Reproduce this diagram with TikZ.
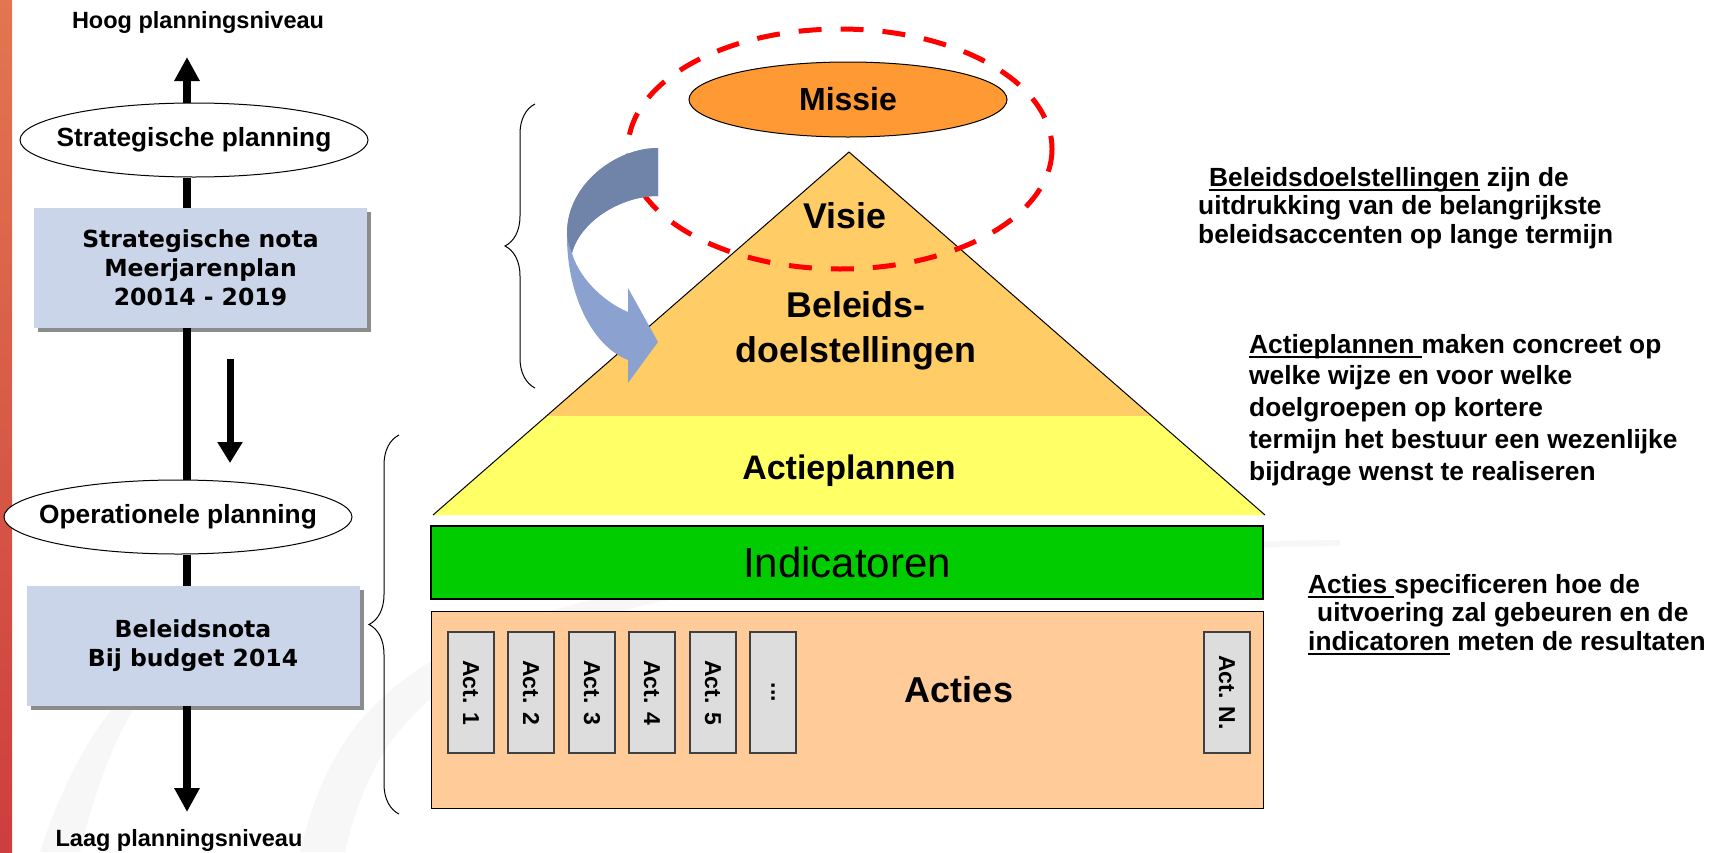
\documentclass[tikz,border=0pt]{standalone}
\usepackage{fontspec}
\setmainfont{Liberation Sans}
\newfontfamily\verdana{DejaVu Sans}
\usepackage{tikz}
\usetikzlibrary{shapes,arrows.meta,calc,shadows,decorations.pathreplacing,positioning}
\definecolor{stripetop}{RGB}{226,118,80}
\definecolor{stripebot}{RGB}{205,62,62}
\definecolor{notablue}{RGB}{203,213,233}
\definecolor{missieorange}{RGB}{255,153,51}
\definecolor{pyrorange}{RGB}{255,204,102}
\definecolor{pyryellow}{RGB}{255,255,102}
\definecolor{indgreen}{RGB}{0,204,0}
\definecolor{actpeach}{RGB}{255,204,153}
\definecolor{actgray}{RGB}{221,221,221}
\definecolor{arrowdark}{RGB}{112,131,168}
\definecolor{arrowlight}{RGB}{139,162,209}
\newcommand{\ulword}[1]{\leavevmode\setbox0\hbox{#1}\rlap{\rule[-4.5pt]{\wd0}{1.8pt}}\box0\relax}

\begin{document}
\begin{tikzpicture}[x=1pt,y=-1pt,
    every node/.style={font=\bfseries},
    plan/.style={ellipse,draw,fill=white,line width=1pt,minimum width=348pt,minimum height=74pt,inner sep=0pt,font=\bfseries\fontsize{26.3}{30}\selectfont},
    nota/.style={fill=notablue,minimum width=333pt,minimum height=120pt,align=center,font=\verdana\bfseries\fontsize{23.5}{29}\selectfont,drop shadow={shadow xshift=4pt,shadow yshift=-4pt,fill=black!45,opacity=1}},
    spinearrow/.style={line width=8pt},
    level/.style={inner sep=0pt,font=\bfseries\fontsize{23.5}{28}\selectfont},
    layer/.style={inner sep=0pt,align=center,font=\bfseries\fontsize{35.8}{45}\selectfont},
    actbox/.style={draw=black!75,line width=1.2pt,fill=actgray,minimum width=121pt,minimum height=46pt,inner sep=0pt,rotate=-90,font=\bfseries\fontsize{23}{26}\selectfont},
    note/.style={inner sep=0pt,anchor=north west,align=left},
    sidebrace/.style={decorate,decoration={brace,amplitude=30pt},line width=1pt}]
  \useasboundingbox (0,0) rectangle (1713,852);
  % background
  \shade[top color=stripetop,bottom color=stripebot] (0,0) rectangle (12,852);
  \fill[black!3] (300,852) .. controls (350,640) and (500,548) .. (1340,540) -- (1340,546) .. controls (520,560) and (390,660) .. (345,852) -- cycle;
  \fill[black!3] (40,852) .. controls (70,760) and (110,700) .. (160,660) -- (165,668) .. controls (125,710) and (100,770) .. (80,852) -- cycle;

  % left column
  \node[level] (hoog) at (198,22) {Hoog planningsniveau};
  \node[level] (laag) at (179,840) {Laag planningsniveau};
  \coordinate (spine) at (187,0);
  \node[plan] (sp) at (194,140) {\makebox[0pt]{Strategische planning}};
  \node[nota] (meerjaren) at (200.5,268) {Strategische nota\\Meerjarenplan\\20014 - 2019};
  \node[plan] (op) at (178,517) {\makebox[0pt]{Operationele planning}};
  \node[nota] (budget) at (193,646) {Beleidsnota\\Bij budget 2014};
  \draw[spinearrow,-{Triangle[width=24pt,length=24pt]}] (sp.north -| spine) -- (spine |- 0,57);
  \draw[spinearrow] (sp.south -| spine) -- (meerjaren.north -| spine);
  \draw[spinearrow] (meerjaren.south -| spine) -- (op.north -| spine);
  \draw[spinearrow] (op.south -| spine) -- (budget.north -| spine);
  \draw[spinearrow,-{Triangle[width=24pt,length=24pt]}] (budget.south -| spine) -- (spine |- 0,812);
  \coordinate (down1) at (230,359);
  \coordinate (down2) at (230,463);
  \draw[line width=7pt,-{Triangle[width=24pt,length=21pt]}] (down1) -- (down2);

  % braces
  \draw[sidebrace] (535,388) -- (535,104);
  \draw[sidebrace] (399,814) -- (399,435);

  % pyramid
  \coordinate (apex) at (849,152);
  \coordinate (bl) at (433,515);
  \coordinate (br) at (1265,515);
  \fill[pyryellow] (apex) -- (bl) -- (br) -- cycle;
  \fill[pyrorange] (apex) -- ($(apex)!0.727!(bl)$) -- ($(apex)!0.727!(br)$) -- cycle;
  \draw[line width=1pt] (bl) -- (apex) -- (br);
  \node[layer] (visie) at (845,216) {Visie};
  \node[layer] (doel) at (856,331) {Beleids-\\doelstellingen};
  \node[layer,font=\bfseries\fontsize{34}{40}\selectfont] (plannen) at (849,471) {Actieplannen};
  \node[ellipse,draw,line width=1pt,fill=missieorange,minimum width=318pt,minimum height=75pt,inner sep=0pt,font=\bfseries\fontsize{32}{36}\selectfont] (missie) at (848,99.5) {Missie};
  \draw[red,line width=5pt,dash pattern=on 23pt off 19pt] (840,149) ellipse (212 and 120);

  % curved arrow
  \fill[arrowlight] (658,148) .. controls (615,148) and (567,185) .. (567,233)
    .. controls (566,290) and (590,345) .. (628,360) -- (628,383) -- (658,342) -- (628,288) -- (628,312)
    .. controls (600,300) and (578,275) .. (572,253)
    .. controls (580,222) and (620,196) .. (658,196) -- cycle;
  \fill[arrowdark] (658,148) .. controls (615,148) and (567,185) .. (567,233)
    .. controls (568,243) .. (572,253)
    .. controls (580,222) and (620,196) .. (658,196) -- cycle;

  % indicators and actions
  \node[draw,line width=1.5pt,fill=indgreen,minimum width=832pt,minimum height=73pt,inner sep=0pt,font=\mdseries\fontsize{42}{48}\selectfont] (ind) at (847,562.5) {Indicatoren};
  \node[draw,line width=1pt,fill=actpeach,minimum width=832pt,minimum height=197pt] (acties) at (847,709.5) {};
  \node[inner sep=0pt,font=\bfseries\fontsize{36}{40}\selectfont] (actieslabel) at (959,690) {Acties};
  \foreach \i/\x in {1/471,2/531,3/592,4/652,5/713}
    \node[actbox] (act\i) at (\x,692.5) {Act. \i};
  \node[actbox] (actdots) at (773,692.5) {...};
  \node[actbox] (actN) at (1227,692.5) {Act. N.};

  % explanations
  \node[note,font=\bfseries\fontsize{26.3}{28.5}\selectfont] (uitleg1) at (1198,167)
    {\hspace*{11pt}\ulword{Beleidsdoelstellingen} zijn de\\uitdrukking van de belangrijkste\\beleidsaccenten op lange termijn};
  \node[note,font=\bfseries\fontsize{26.3}{31.7}\selectfont] (uitleg2) at (1249,334)
    {\ulword{Actieplannen\ }maken concreet op\\welke wijze en voor welke\\doelgroepen op kortere\\termijn het bestuur een wezenlijke\\bijdrage wenst te realiseren};
  \node[note,font=\bfseries\fontsize{26.3}{28.5}\selectfont] (uitleg3) at (1308,574)
    {\ulword{Acties\ }specificeren hoe de\\\hspace*{9pt}uitvoering zal gebeuren en de\\\ulword{indicatoren} meten de resultaten};
\end{tikzpicture}
\end{document}
